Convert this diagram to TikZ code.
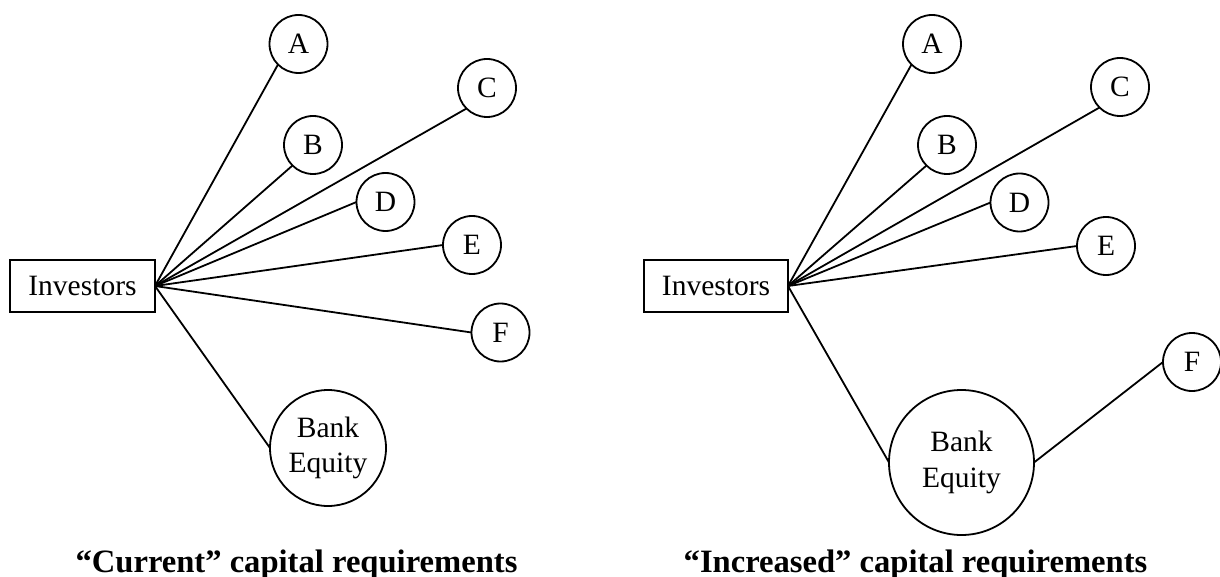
\documentclass[tikz,border=0pt]{standalone}
\usepackage{fontspec}
\setmainfont{Liberation Serif}
\begin{document}
\begin{tikzpicture}[x=1pt,y=-1pt,
  every node/.style={inner sep=0pt, outer sep=0pt, font=\fontsize{29.5}{35.5}\selectfont},
  boxnode/.style={draw, line width=1.8pt, minimum width=145pt, minimum height=52pt},
  smallc/.style={draw, circle, line width=1.8pt, minimum size=58pt},
  bankc/.style={draw, circle, line width=1.8pt, align=center},
  conn/.style={line width=1.8pt},
  caption/.style={anchor=base, font=\fontsize{32.6}{36}\selectfont\bfseries}]
\useasboundingbox (0,0) rectangle (1220,577);
% Left panel
\node[boxnode] (inv1) at (82.5,286) {Investors};
\node[smallc] (a1) at (298.5,44) {A};
\node[smallc] (b1) at (313,145) {B};
\node[smallc] (c1) at (487,88) {C};
\node[smallc] (d1) at (385.5,202) {D};
\node[smallc] (e1) at (472,245) {E};
\node[smallc] (f1) at (500.5,332.5) {F};
\node[bankc, minimum size=116pt] (bank1) at (328,448) {Bank\\Equity};
\draw[conn] (inv1.east) -- (a1.south west);
\draw[conn] (inv1.east) -- (b1.south west);
\draw[conn] (inv1.east) -- (c1.south west);
\draw[conn] (inv1.east) -- (d1.west);
\draw[conn] (inv1.east) -- (e1.west);
\draw[conn] (inv1.east) -- (f1.west);
\draw[conn] (inv1.east) -- (bank1.west);
\node[caption] (cap1) at (296.5,572) {“Current” capital requirements};
% Right panel
\node[boxnode, minimum width=144pt] (inv2) at (716,286) {Investors};
\node[smallc] (a2) at (932,44) {A};
\node[smallc] (b2) at (947,145) {B};
\node[smallc] (c2) at (1120,87) {C};
\node[smallc] (d2) at (1019.5,202.5) {D};
\node[smallc] (e2) at (1106,246) {E};
\node[smallc] (f2) at (1192,362) {F};
\node[bankc, minimum size=145pt] (bank2) at (961.5,462.5) {Bank\\Equity};
\draw[conn] (inv2.east) -- (a2.south west);
\draw[conn] (inv2.east) -- (b2.south west);
\draw[conn] (inv2.east) -- (c2.south west);
\draw[conn] (inv2.east) -- (d2.west);
\draw[conn] (inv2.east) -- (e2.west);
\draw[conn] (inv2.east) -- (bank2.west);
\draw[conn] (bank2.east) -- (f2.west);
\node[caption] (cap2) at (915.5,572) {“Increased” capital requirements};
\end{tikzpicture}
\end{document}
